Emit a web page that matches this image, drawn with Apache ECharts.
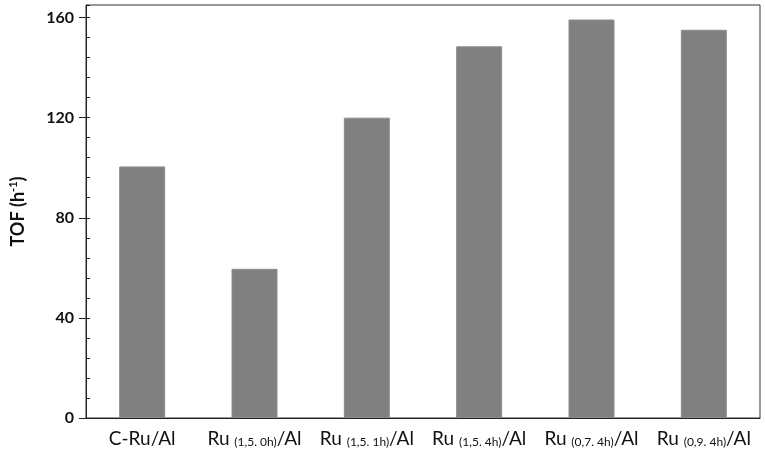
<!DOCTYPE html>
<html>
<head>
<meta charset="utf-8">
<script src="https://cdn.jsdelivr.net/npm/echarts@6/dist/echarts.min.js"></script>
<style>
  html, body { margin: 0; padding: 0; background: #fff; }
  #chartDom { width: 765px; height: 455px; }
</style>
</head>
<body>
<div id="chartDom"></div>
<script>
// 类别（x 轴）和 TOF 数值
const catMain = ['C-Ru/Al', 'Ru', 'Ru', 'Ru', 'Ru', 'Ru'];
const catSub = ['', '(1,5. 0h)', '(1,5. 1h)', '(1,5. 4h)', '(0,7. 4h)', '(0,9. 4h)'];
const tofValues = [100.5, 59.6, 120, 148.5, 159.2, 155.1];
const yTicks = [0, 40, 80, 120, 160];

const categories = catMain.map((m, i) => catSub[i] ? m + ' {sub|' + catSub[i] + '}/Al' : m);

const chart = echarts.init(document.getElementById('chartDom'));
const labelFont = 'Lato, "Open Sans", sans-serif';

chart.setOption({
  animation: false,
  grid: {
    left: 77, right: 5, top: 5, bottom: 37,
    show: true, borderColor: '#333', borderWidth: 1
  },
  xAxis: {
    type: 'category',
    data: categories,
    axisLine: { lineStyle: { color: '#222', width: 1 } },
    axisTick: { show: false },
    axisLabel: {
      color: '#111',
      fontFamily: labelFont,
      fontSize: 19,
      margin: 11,
      interval: 0,
      rich: {
        sub: { fontSize: 12, fontFamily: labelFont, color: '#111', padding: [7, 0, 0, 0] }
      }
    }
  },
  yAxis: [
    {
      type: 'value',
      min: 0, max: 165, interval: 40,
      name: 'TOF (h{sup|-1})',
      nameLocation: 'middle',
      nameGap: 58,
      nameRotate: 90,
      nameTextStyle: {
        color: '#111', fontFamily: labelFont, fontSize: 18, fontWeight: 'bold',
        rich: { sup: { fontSize: 11, fontWeight: 'bold', color: '#111', padding: [0, 0, 9, 0] } }
      },
      axisLine: { show: true, lineStyle: { color: '#222' } },
      axisTick: { show: true, length: 7, lineStyle: { color: '#222' } },
      splitLine: { show: false },
      axisLabel: {
        color: '#111', fontFamily: labelFont, fontSize: 16, fontWeight: 'bold', margin: 12,
        showMaxLabel: false,
        formatter: v => yTicks.indexOf(v) >= 0 ? String(v) : ''
      }
    },
    {
      type: 'value',
      position: 'left',
      min: 0, max: 165, interval: 8,
      axisLine: { show: false },
      axisTick: { show: true, inside: true, length: 4, lineStyle: { color: '#222' } },
      axisLabel: { show: false },
      splitLine: { show: false }
    }
  ],
  series: [
    {
      type: 'bar',
      data: tofValues,
      barWidth: 46,
      itemStyle: { color: '#808080', borderColor: '#8c8c8c', borderWidth: 1 }
    }
  ]
});
</script>
</body>
</html>
